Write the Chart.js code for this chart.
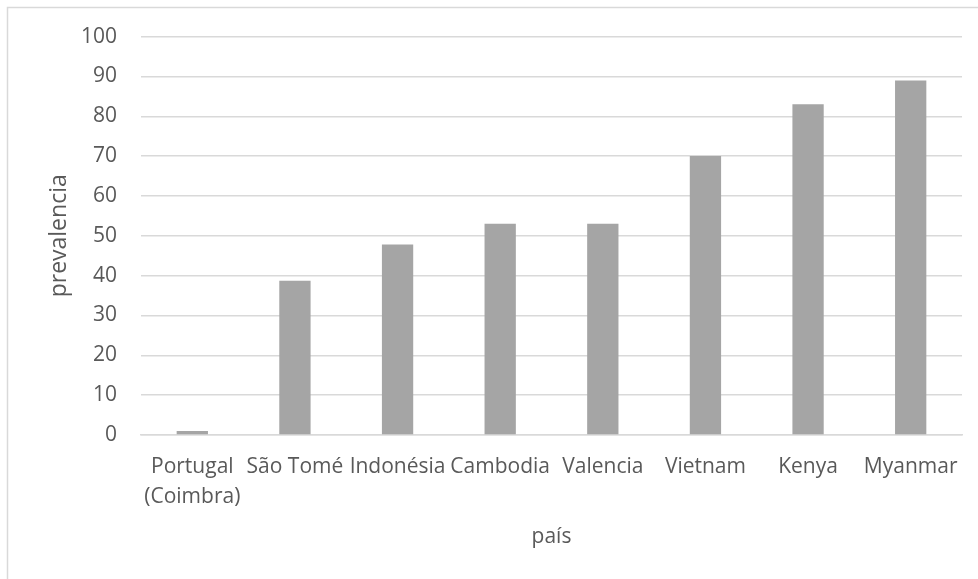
<!DOCTYPE html>
<html>
<head>
<meta charset="utf-8">
<script src="https://cdn.jsdelivr.net/npm/chart.js@4.4.1/dist/chart.umd.min.js"></script>
<style>
  html, body { margin: 0; padding: 0; background: #ffffff; }
  #wrap { width: 978px; height: 579px; position: relative; }
</style>
</head>
<body>
<div id="wrap"><canvas id="c" width="978" height="579"></canvas></div>
<script>
// Prevalence by country
const categories = [["Portugal", "(Coimbra)"], "São Tomé", "Indonésia", "Cambodia", "Valencia", "Vietnam", "Kenya", "Myanmar"];
const prevalence = [1, 38.7, 47.8, 53, 53, 70, 83, 89];
const yTicks = [0, 10, 20, 30, 40, 50, 60, 70, 80, 90, 100];

const FONT = "'Open Sans', 'Liberation Sans', sans-serif";
const TEXT = '#595959';
const GRID = '#d9d9d9';

// Thin frame along the top and left edges of the chart box
const framePlugin = {
  id: 'frame',
  beforeDraw(chart) {
    const ctx = chart.ctx;
    ctx.save();
    ctx.fillStyle = '#ffffff';
    ctx.fillRect(0, 0, chart.width, chart.height);
    ctx.strokeStyle = GRID;
    ctx.lineWidth = 1.5;
    ctx.beginPath();
    ctx.moveTo(7.5, chart.height + 2);
    ctx.lineTo(7.5, 7.5);
    ctx.lineTo(chart.width + 2, 7.5);
    ctx.stroke();
    ctx.restore();
  }
};

new Chart(document.getElementById('c'), {
  type: 'bar',
  data: {
    labels: categories,
    datasets: [{
      label: 'prevalencia',
      data: prevalence,
      backgroundColor: '#a5a5a5',
      borderWidth: 0,
      categoryPercentage: 1,
      barPercentage: 0.305
    }]
  },
  options: {
    responsive: false,
    animation: false,
    events: [],
    layout: { padding: { left: 58, right: 16, top: 36, bottom: 0 } },
    plugins: {
      legend: { display: false },
      tooltip: { enabled: false }
    },
    scales: {
      x: {
        grid: { display: false, drawTicks: false },
        border: { display: true, color: GRID, width: 1.5 },
        ticks: {
          color: TEXT,
          padding: 17,
          maxRotation: 0,
          autoSkip: false,
          font: { family: FONT, size: 21, lineHeight: 1.43 }
        },
        title: {
          display: true,
          text: 'país',
          color: TEXT,
          padding: { top: 0, bottom: 29 },
          font: { family: FONT, size: 21, lineHeight: 1.2 }
        },
        afterFit(scale) { scale.height = 144; }
      },
      y: {
        min: 0,
        max: 100,
        afterBuildTicks(scale) { scale.ticks = yTicks.map(v => ({ value: v })); },
        grid: { color: GRID, lineWidth: 1.5, drawTicks: false },
        border: { display: false },
        ticks: {
          color: TEXT,
          padding: 24,
          font: { family: FONT, size: 21 }
        },
        title: {
          display: true,
          text: 'prevalencia',
          color: TEXT,
          padding: { top: -12, bottom: 0 },
          font: { family: FONT, size: 23, lineHeight: 1.2 }
        },
        afterFit(scale) { scale.width = 83; }
      }
    }
  },
  plugins: [framePlugin]
});
</script>
</body>
</html>
